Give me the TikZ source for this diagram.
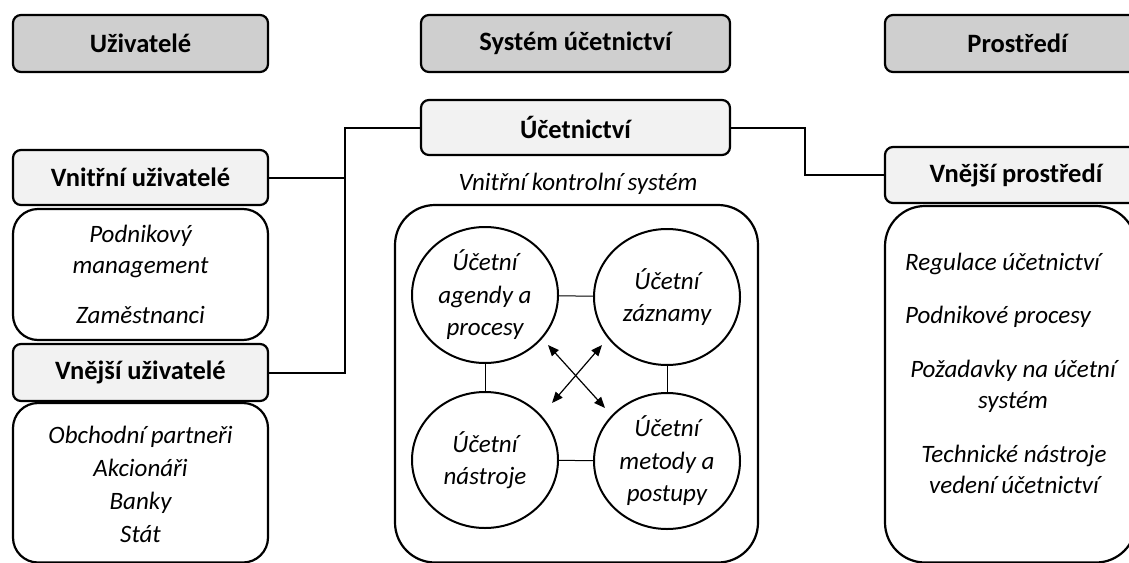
\documentclass[tikz,border=0pt]{standalone}
\usepackage{fontspec}
\setmainfont{Carlito}
\usetikzlibrary{arrows.meta,shapes.geometric}

\begin{document}
\begin{tikzpicture}[x=1pt,y=-1pt,
    hdr/.style={draw,line width=2.2pt,rounded corners=8pt,fill=gray!38,inner sep=0pt,
      font=\fontsize{26.5}{30}\selectfont\bfseries},
    subhdr/.style={hdr,fill=gray!10},
    panel/.style={draw,line width=2.2pt},
    bubble/.style={draw,ellipse,line width=2pt,minimum width=146pt,minimum height=136pt,
      inner sep=0pt,align=center,font=\fontsize{25}{32.5}\selectfont\itshape},
    item/.style={inner sep=0pt,text height=17pt,text depth=6pt,
      font=\fontsize{25}{32}\selectfont\itshape},
    link/.style={line width=2pt},
    thin/.style={line width=1pt},
    both/.style={line width=1.2pt,{Triangle[length=11pt,width=9pt]}-{Triangle[length=11pt,width=9pt]}}]
  \clip (0,0) rectangle (1129,562);

  % column heads
  \node[hdr,minimum width=255pt,minimum height=57pt] (uziv) at (140.5,43.5) {Uživatelé};
  \node[hdr,minimum width=309pt,minimum height=57pt] (syst) at (575.5,43.5) {Systém účetnictví};
  \node[hdr,minimum width=265pt,minimum height=57pt] (pros) at (1017.5,43.5) {Prostředí};

  % users
  \node[subhdr,minimum width=255pt,minimum height=55pt] (vnu) at (140.5,177.5) {Vnitřní uživatelé};
  \draw[panel,rounded corners=25pt] (13,209) rectangle (268,340);
  \node[item] (pm1) at (140.5,237) {Podnikový};
  \node[item] (pm2) at (140.5,268) {management};
  \node[item] (zam) at (140.5,318) {Zaměstnanci};
  \node[subhdr,minimum width=255pt,minimum height=57pt] (vju) at (140.5,372.5) {Vnější uživatelé};
  \draw[panel,rounded corners=25pt] (13,403) rectangle (268,562.5);
  \node[item] (obp) at (140.5,438) {Obchodní partneři};
  \node[item] (akc) at (140.5,471) {Akcionáři};
  \node[item] (ban) at (140.5,504) {Banky};
  \node[item] (sta) at (140.5,537) {Stát};

  % accounting
  \node[subhdr,minimum width=309pt,minimum height=55pt] (uce) at (575.5,127.5) {Účetnictví};
  \node[item] (vks) at (578,185) {Vnitřní kontrolní systém};
  \draw[panel,rounded corners=40pt] (395,205) rectangle (758,562.5);
  \node[bubble] (agd) at (485,295) {Účetní\\agendy a\\procesy};
  \node[bubble] (zaz) at (667,297) {Účetní\\záznamy};
  \node[bubble] (nst) at (485,460) {Účetní\\nástroje};
  \node[bubble] (met) at (667,461) {Účetní\\metody a\\postupy};
  \draw[thin] (agd) -- (zaz);
  \draw[thin] (nst) -- (met);
  \draw[thin] (agd) -- (nst);
  \draw[thin] (zaz) -- (met);
  \coordinate (a1) at (548,345);
  \coordinate (a2) at (605,408);
  \coordinate (b1) at (602,345);
  \coordinate (b2) at (552,403);
  \draw[both] (a1) -- (a2);
  \draw[both] (b1) -- (b2);

  % environment
  \node[subhdr,minimum width=262pt,minimum height=56pt] (vnp) at (1016,175) {Vnější prostředí};
  \draw[panel,rounded corners=40pt] (885,206) rectangle (1136,562.5);
  \node[item,anchor=west] (reg) at (905,265) {Regulace účetnictví};
  \node[item,anchor=west] (pdp) at (905,318) {Podnikové procesy};
  \node[item] (poz1) at (1013,372) {Požadavky na účetní};
  \node[item] (poz2) at (1013,403) {systém};
  \node[item] (tec1) at (1014,457) {Technické nástroje};
  \node[item] (tec2) at (1014,488) {vedení účetnictví};

  % connections
  \coordinate (jl) at (345,177.5);
  \coordinate (jr) at (805,150);
  \draw[link] (vnu.east) -- (jl);
  \draw[link] (vju.east) -| (jl) |- (uce.west);
  \draw[link] (uce.east) -| (jr) |- (vnp.west);
\end{tikzpicture}
\end{document}
